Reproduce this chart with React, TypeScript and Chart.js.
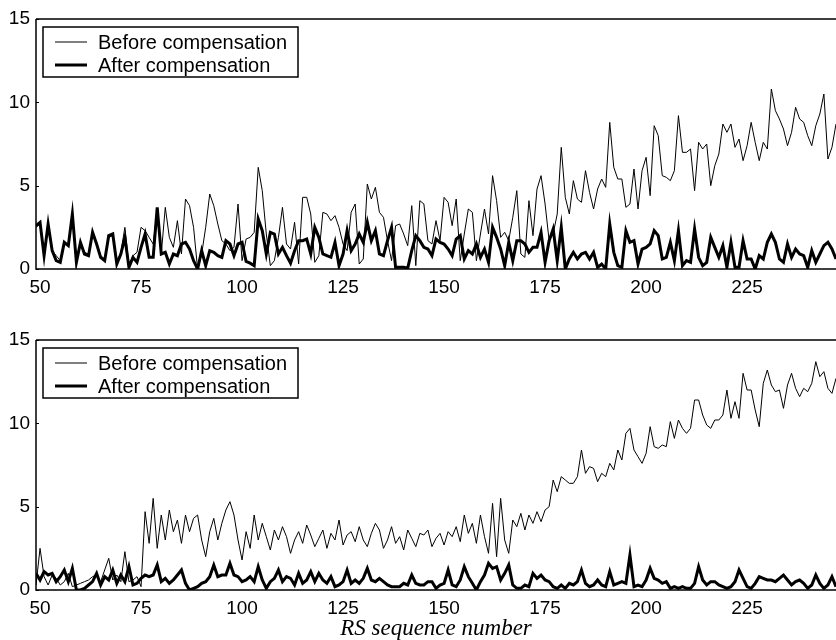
import React, { useEffect, useRef } from "react";
import { Chart, registerables } from "chart.js";

Chart.register(...registerables);

const X_START = 50;
const X_MIN = 50;
const X_MAX = 248;
const X_TICKS = [50, 75, 100, 125, 150, 175, 200, 225];
const Y_TICKS = [0, 5, 10, 15];
const LEGEND_LABELS = ["Before compensation", "After compensation"];
const X_TITLE = "RS sequence number";

// Top panel: x = 50 .. 248
const TOP_BEFORE = [
  2.5, 2.7, 1.0, 2.5, 1.1, 0.8, 0.5, 1.5, 1.5, 3.2,
  0.6, 1.6, 1.0, 0.9, 2.1, 1.6, 0.8, 0.6, 1.9, 2.0,
  0.4, 1.0, 2.5, 0.2, 0.8, 1.0, 2.5, 2.3, 1.9, 1.5,
  3.6, 0.9, 3.7, 1.9, 1.3, 2.9, 0.9, 4.2, 3.8, 2.5,
  0.0, 0.9, 2.5, 4.5, 3.8, 2.7, 1.7, 1.5, 1.1, 1.3,
  3.9, 0.5, 1.8, 1.9, 2.2, 6.1, 4.7, 2.1, 0.2, 0.5,
  1.9, 3.7, 1.5, 1.2, 2.8, 0.3, 4.3, 4.3, 3.3, 0.4,
  0.8, 3.4, 3.3, 2.9, 3.2, 2.5, 1.5, 1.1, 3.4, 3.9,
  0.3, 0.6, 5.1, 4.2, 4.9, 3.4, 3.1, 1.7, 0.5, 2.6,
  2.7, 2.1, 1.4, 3.8, 0.2, 4.1, 3.9, 1.7, 1.5, 2.9,
  1.7, 4.3, 4.0, 2.6, 4.2, 0.5, 2.1, 3.6, 3.4, 0.5,
  2.1, 3.6, 2.1, 5.6, 4.1, 1.9, 2.2, 1.7, 3.1, 4.7,
  0.9, 0.7, 4.1, 2.0, 4.8, 5.6, 3.9, 1.7, 2.1, 3.3,
  7.3, 4.3, 3.3, 5.3, 4.2, 4.0, 5.9, 4.6, 3.6, 4.8,
  5.4, 4.9, 8.8, 6.1, 5.4, 5.4, 3.7, 3.9, 6.0, 3.6,
  5.9, 6.7, 4.4, 8.6, 8.0, 5.6, 5.5, 5.3, 5.9, 9.2,
  7.0, 7.0, 7.2, 4.7, 7.6, 7.2, 7.5, 5.0, 6.2, 6.9,
  8.7, 8.2, 8.7, 7.3, 7.8, 6.5, 7.4, 8.8, 7.6, 6.5,
  7.6, 7.2, 10.8, 9.5, 9.0, 8.4, 7.4, 8.2, 9.7, 9.0,
  8.8, 8.0, 7.4, 8.6, 9.3, 10.5, 6.6, 7.3, 8.7,
];

const TOP_AFTER = [
  2.6, 2.8, 0.8, 2.7, 1.1, 0.5, 0.4, 1.6, 1.4, 3.3,
  0.4, 1.6, 0.9, 0.8, 2.2, 1.5, 0.7, 0.5, 2.0, 2.1,
  0.3, 0.9, 1.9, 0.1, 0.7, 0.4, 1.3, 2.1, 0.7, 0.7,
  3.7, 0.9, 1.0, 0.3, 0.9, 0.8, 1.5, 1.6, 1.2, 0.5,
  0.0, 1.1, 0.2, 1.1, 1.0, 0.8, 0.7, 1.7, 1.5, 0.8,
  1.5, 1.6, 0.45, 0.35, 0.2, 3.0, 2.3, 0.9, 2.2, 2.1,
  0.9, 1.3, 0.8, 0.35, 1.1, 1.7, 1.7, 1.8, 0.9, 2.5,
  1.9, 0.9, 0.8, 0.7, 1.6, 0.2, 0.9, 2.3, 1.1, 1.5,
  2.1, 1.6, 2.8, 1.7, 2.3, 0.9, 0.8, 1.7, 2.5, 0.1,
  0.1, 0.1, 0.05, 1.1, 2.0, 1.7, 1.3, 1.2, 0.8, 1.8,
  1.6, 1.5, 1.2, 0.8, 1.8, 2.0, 0.6, 1.1, 0.9, 1.5,
  0.7, 1.2, 0.4, 2.5, 1.9, 1.2, 0.2, 1.6, 0.5, 1.7,
  1.7, 1.5, 1.0, 1.3, 1.3, 2.2, 0.4, 1.7, 2.4, 0.5,
  2.5, 0.0, 0.6, 1.0, 0.6, 0.9, 1.0, 0.6, 1.0, 0.1,
  0.3, 0.0, 2.7, 1.0, 0.2, 0.1, 2.3, 1.6, 1.7, 0.3,
  1.2, 1.3, 1.5, 2.3, 2.0, 0.6, 0.7, 1.6, 0.5, 2.3,
  0.2, 0.5, 0.4, 2.4, 0.7, 0.2, 0.4, 1.9, 1.3, 0.7,
  1.4, 0.1, 1.6, 0.1, 0.1, 1.7, 0.6, 0.6, 0.0, 0.8,
  0.6, 1.6, 2.1, 1.6, 0.6, 0.4, 1.5, 0.7, 1.2, 0.9,
  0.8, 0.1, 1.1, 0.4, 0.9, 1.4, 1.6, 1.2, 0.6,
];

// Bottom panel: x = 50 .. 248
const BOTTOM_BEFORE = [
  0.3, 2.5, 0.8, 0.3, 0.9, 0.7, 0.3, 0.5, 1.0, 0.2,
  0.3, 0.4, 0.5, 0.6, 0.8, 0.9, 0.5, 1.2, 1.9, 0.6,
  0.9, 0.5, 2.3, 0.5, 0.6, 0.8, 0.2, 4.7, 2.8, 5.5,
  2.5, 4.5, 3.0, 4.8, 3.5, 4.2, 2.8, 4.5, 3.5, 4.3,
  4.5, 3.0, 2.0, 3.5, 4.3, 3.0, 4.0, 4.8, 5.3, 4.5,
  3.0, 1.8, 3.5, 2.5, 4.5, 3.0, 4.0, 3.2, 2.4, 3.6,
  3.0, 3.8, 3.2, 2.2, 3.0, 3.5, 2.8, 3.9, 3.3, 2.6,
  3.1, 3.6, 2.5, 3.4, 3.0, 4.2, 2.7, 3.3, 3.5, 2.9,
  3.8, 3.0, 2.6, 3.4, 4.0, 3.6, 2.5, 3.0, 3.8, 2.8,
  3.2, 2.4, 3.6, 3.1, 2.6, 3.4, 3.3, 3.6, 2.6, 3.1,
  3.4, 2.7, 3.5, 3.2, 3.8, 2.9, 4.5, 3.4, 4.0, 2.8,
  4.5, 3.2, 2.2, 5.2, 2.0, 5.5, 3.0, 2.2, 4.2, 3.8,
  4.6, 3.6, 4.5, 4.0, 4.7, 4.1, 4.8, 5.0, 6.6, 5.9,
  6.8, 6.6, 6.4, 6.4, 6.8, 8.4, 7.0, 7.4, 7.3, 6.5,
  7.0, 6.8, 7.6, 7.2, 8.4, 7.8, 9.4, 9.7, 8.4, 8.0,
  7.6, 8.2, 9.8, 8.6, 8.5, 8.7, 8.6, 10.1, 9.1, 10.2,
  9.7, 9.4, 9.7, 11.4, 11.4, 10.5, 9.9, 9.7, 10.2, 10.2,
  10.5, 12.0, 10.3, 11.3, 10.3, 13.0, 12.0, 12.0, 10.8, 9.8,
  12.4, 13.2, 12.3, 11.9, 12.0, 10.9, 12.3, 13.0, 12.1, 11.6,
  12.1, 11.9, 12.4, 13.7, 12.8, 13.1, 12.1, 11.8, 12.7,
];

const BOTTOM_AFTER = [
  1.0, 0.6, 1.1, 0.9, 1.0, 0.5, 0.8, 1.2, 0.5, 1.3,
  0.0, 0.0, 0.1, 0.3, 0.5, 1.0, 0.3, 0.8, 0.6, 1.2,
  0.4, 0.9, 0.5, 1.4, 0.3, 0.4, 0.7, 0.9, 0.8, 0.9,
  1.5, 0.5, 0.7, 0.4, 0.6, 0.9, 1.2, 0.4, 0.0, 0.1,
  0.2, 0.4, 0.5, 0.8, 1.5, 0.8, 0.9, 0.9, 1.6, 0.9,
  0.8, 0.5, 0.6, 0.8, 0.5, 1.4, 0.6, 0.1, 0.5, 0.7,
  1.2, 0.5, 0.8, 0.7, 0.3, 1.0, 0.4, 0.6, 1.1, 0.5,
  1.0, 0.6, 0.4, 0.8, 0.2, 0.3, 0.5, 1.2, 0.4, 0.6,
  0.4, 0.7, 1.3, 0.6, 0.5, 0.7, 0.5, 0.3, 0.2, 0.2,
  0.2, 0.4, 0.3, 0.9, 0.4, 0.3, 0.3, 0.5, 0.5, 0.1,
  0.3, 0.4, 1.2, 0.3, 0.2, 0.6, 1.4, 0.8, 0.4, 0.0,
  0.5, 0.9, 1.6, 1.3, 1.4, 0.6, 1.0, 1.5, 0.3, 0.1,
  0.1, 0.3, 0.2, 1.0, 0.7, 0.9, 0.6, 0.5, 0.2, 0.1,
  0.3, 0.1, 0.4, 0.3, 0.5, 1.2, 0.4, 0.2, 0.3, 0.6,
  0.3, 0.2, 1.1, 0.3, 0.4, 0.5, 0.4, 2.1, 0.2, 0.3,
  0.2, 0.6, 1.3, 0.7, 0.6, 0.4, 0.5, 0.1, 0.2, 0.1,
  0.2, 0.1, 0.1, 0.4, 1.4, 0.6, 0.3, 0.5, 0.5, 0.3,
  0.2, 0.1, 0.2, 0.5, 1.2, 0.7, 0.2, 0.1, 0.4, 0.8,
  0.7, 0.6, 0.6, 0.5, 0.7, 0.9, 0.6, 0.3, 0.5, 0.6,
  0.4, 0.1, 0.3, 0.9, 0.4, 0.1, 0.3, 0.8, 0.2,
];

const SANS = "'Liberation Sans', Arial, sans-serif";
const SERIF = "'Liberation Serif', 'Times New Roman', serif";

function toPoints(values: number[]) {
  return values.map((v, i) => ({ x: X_START + i, y: v }));
}

const framePlugin = {
  id: "frame",
  afterDatasetsDraw(chart: any) {
    const { ctx, chartArea } = chart;
    const { left, right, top, bottom } = chartArea;
    ctx.save();
    ctx.strokeStyle = "#000";
    ctx.lineWidth = 1.5;
    ctx.beginPath();
    ctx.moveTo(left, top);
    ctx.lineTo(right + 2, top);
    ctx.moveTo(left, top);
    ctx.lineTo(left, bottom);
    ctx.lineTo(right + 2, bottom);
    ctx.stroke();
    const ys = chart.scales.y;
    ctx.lineWidth = 1;
    ctx.beginPath();
    for (const v of Y_TICKS) {
      const py = Math.round(ys.getPixelForValue(v)) + 0.5;
      ctx.moveTo(left, py);
      ctx.lineTo(left + 3, py);
    }
    ctx.stroke();
    ctx.restore();
  },
};

const boxLegendPlugin = {
  id: "boxLegend",
  afterDraw(chart: any) {
    const { ctx, chartArea } = chart;
    const x0 = chartArea.left + 7;
    const y0 = chartArea.top + 8;
    const w = 255;
    const h = 50;
    ctx.save();
    ctx.fillStyle = "#fff";
    ctx.fillRect(x0, y0, w, h);
    ctx.strokeStyle = "#000";
    ctx.lineWidth = 1.5;
    ctx.strokeRect(x0, y0, w, h);
    ctx.font = `20px ${SANS}`;
    ctx.textBaseline = "middle";
    ctx.fillStyle = "#000";
    LEGEND_LABELS.forEach((label, i) => {
      const ds = chart.data.datasets[i];
      const y = y0 + 15 + i * 23;
      ctx.lineWidth = ds.borderWidth;
      ctx.strokeStyle = ds.borderColor;
      ctx.beginPath();
      ctx.moveTo(x0 + 12, y);
      ctx.lineTo(x0 + 44, y);
      ctx.stroke();
      ctx.fillText(label, x0 + 55, y + 1);
    });
    ctx.restore();
  },
};

function makeChart(
  canvas: HTMLCanvasElement,
  before: number[],
  after: number[],
  xAxisHeight: number,
  showTitle: boolean
) {
  return new Chart(canvas, {
    type: "line",
    data: {
      datasets: [
        {
          label: LEGEND_LABELS[0],
          data: toPoints(before),
          borderColor: "#000",
          borderWidth: 1,
          pointRadius: 0,
          tension: 0,
          fill: false,
          order: 1,
        },
        {
          label: LEGEND_LABELS[1],
          data: toPoints(after),
          borderColor: "#000",
          borderWidth: 3,
          pointRadius: 0,
          tension: 0,
          fill: false,
          order: 0,
        },
      ],
    },
    options: {
      animation: false,
      responsive: false,
      maintainAspectRatio: false,
      devicePixelRatio: 1,
      layout: { padding: { top: 19, left: 0, right: 0, bottom: 0 } },
      plugins: {
        legend: { display: false },
        tooltip: { enabled: false },
        title: { display: false },
      },
      scales: {
        x: {
          type: "linear",
          min: X_MIN,
          max: X_MAX,
          grid: { display: false, drawTicks: false },
          border: { display: false },
          afterBuildTicks: (scale: any) => {
            scale.ticks = X_TICKS.map((v) => ({ value: v }));
          },
          afterFit: (scale: any) => {
            scale.height = xAxisHeight;
          },
          ticks: {
            font: { family: SANS, size: 19 },
            color: "#000",
            padding: 7,
            labelOffset: 4,
            maxRotation: 0,
            autoSkip: false,
          },
          title: {
            display: showTitle,
            text: X_TITLE,
            color: "#000",
            font: { family: SERIF, size: 23, style: "italic", lineHeight: 1 },
            padding: { top: 0, bottom: 0 },
          },
        },
        y: {
          type: "linear",
          min: 0,
          max: 15,
          grid: { display: false, drawTicks: false },
          border: { display: false },
          afterBuildTicks: (scale: any) => {
            scale.ticks = Y_TICKS.map((v) => ({ value: v }));
          },
          afterFit: (scale: any) => {
            scale.width = 36;
          },
          ticks: {
            font: { family: SANS, size: 19 },
            color: "#000",
            padding: 6,
          },
        },
      },
    },
    plugins: [framePlugin, boxLegendPlugin],
  } as any);
}

export default function App() {
  const topRef = useRef<HTMLCanvasElement>(null);
  const bottomRef = useRef<HTMLCanvasElement>(null);

  useEffect(() => {
    const c1 = makeChart(topRef.current!, TOP_BEFORE, TOP_AFTER, 52, false);
    const c2 = makeChart(bottomRef.current!, BOTTOM_BEFORE, BOTTOM_AFTER, 50, true);
    return () => {
      c1.destroy();
      c2.destroy();
    };
  }, []);

  return (
    <div
      style={{
        position: "absolute",
        left: 0,
        top: 0,
        width: 836,
        height: 640,
        background: "#fff",
        overflow: "hidden",
      }}
    >
      <canvas
        ref={topRef}
        width={836}
        height={321}
        style={{ position: "absolute", left: 0, top: 0, width: 836, height: 321 }}
      />
      <canvas
        ref={bottomRef}
        width={836}
        height={319}
        style={{ position: "absolute", left: 0, top: 321, width: 836, height: 319 }}
      />
    </div>
  );
}
